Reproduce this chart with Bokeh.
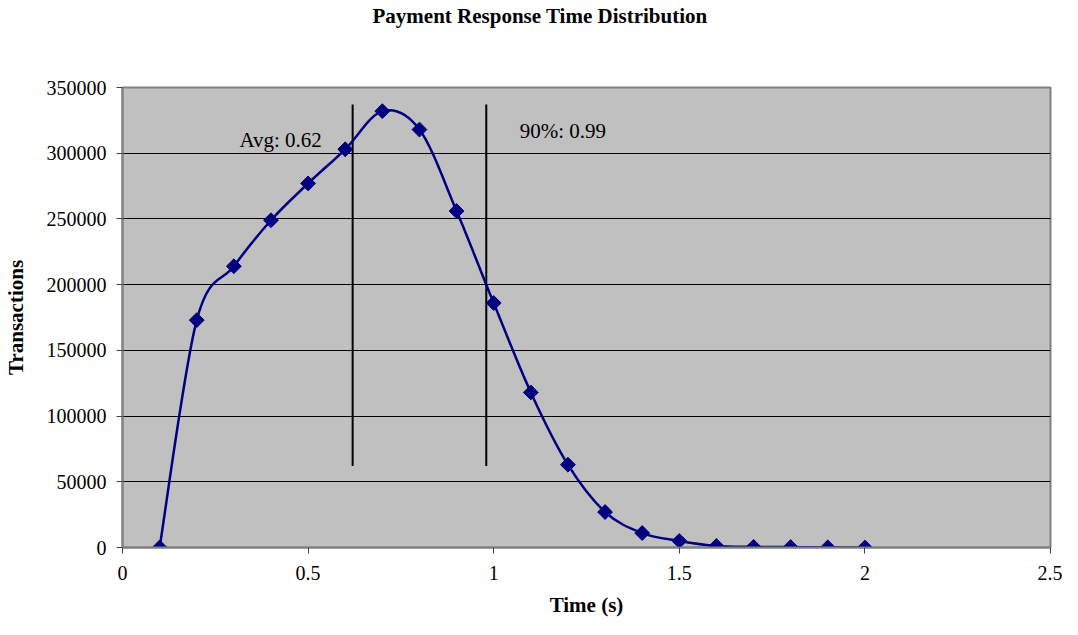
import numpy as np
from bokeh.plotting import figure
from bokeh.models import Range1d, FixedTicker, Label, Title, ColumnDataSource
from bokeh.embed import file_html
from bokeh.resources import INLINE

# ---- data ----
time_s = [0.1, 0.2, 0.3, 0.4, 0.5, 0.6, 0.7, 0.8, 0.9, 1.0,
          1.1, 1.2, 1.3, 1.4, 1.5, 1.6, 1.7, 1.8, 1.9, 2.0]
transactions = [0, 173000, 214000, 249000, 277000, 303000, 332000, 318000, 256000, 186000,
                118000, 63000, 27000, 11000, 5000, 1200, 500, 300, 100, 0]
x_ticks = [0, 0.5, 1, 1.5, 2, 2.5]
x_tick_labels = ["0", "0.5", "1", "1.5", "2", "2.5"]
y_ticks = [0, 50000, 100000, 150000, 200000, 250000, 300000, 350000]
y_tick_labels = ["0", "50000", "100000", "150000", "200000", "250000", "300000", "350000"]
marker_times = [0.62, 0.98]
marker_y0 = [62000, 62000]
marker_y1 = [337000, 337000]
annot_text = ["Avg: 0.62", "90%: 0.99"]
annot_x = [0.315, 1.07]
annot_y = [310000, 317000]
title_text = "Payment Response Time Distribution"

FONT = "Liberation Serif"
NAVY = "#000080"

p = figure(width=1062, height=619, output_backend="svg", toolbar_location=None,
           x_range=Range1d(0, 2.5), y_range=Range1d(0, 350000),
           min_border_left=122, min_border_right=12, min_border_top=87, min_border_bottom=70,
           x_axis_label="Time (s)", y_axis_label="Transactions")

p.title = Title(text=title_text, align="left", offset=250,
                text_font=FONT, text_font_size="21px", text_font_style="bold",
                text_color="black", vertical_align="top", standoff=2)

# blank spacer between the title and the plot area
p.add_layout(Title(text=" ", text_font=FONT, text_font_size="21px", standoff=31), "above")

p.background_fill_color = "#C0C0C0"
p.border_fill_color = "white"
p.outline_line_color = "#808080"
p.outline_line_width = 2

p.xgrid.visible = False
p.ygrid.grid_line_color = "black"
p.ygrid.grid_line_width = 1
p.ygrid.ticker = FixedTicker(ticks=y_ticks)

p.xaxis.ticker = FixedTicker(ticks=x_ticks)
p.yaxis.ticker = FixedTicker(ticks=y_ticks)
p.xaxis.major_label_overrides = {t: l for t, l in zip(x_ticks, x_tick_labels)}
p.yaxis.major_label_overrides = {t: l for t, l in zip(y_ticks, y_tick_labels)}

for ax in (p.xaxis, p.yaxis):
    ax.axis_line_color = "#808080"
    ax.axis_line_width = 2
    ax.major_tick_line_color = "#404040"
    ax.major_tick_in = 0
    ax.major_tick_out = 6
    ax.minor_tick_line_color = None
    ax.major_label_text_font = FONT
    ax.major_label_text_font_size = "20px"
    ax.major_label_text_color = "black"
    ax.axis_label_text_font = FONT
    ax.axis_label_text_font_size = "21px"
    ax.axis_label_text_font_style = "bold"
    ax.axis_label_text_color = "black"

p.xaxis.major_label_standoff = 12
p.xaxis.axis_label_standoff = 10
p.yaxis.major_label_standoff = 10
p.yaxis.axis_label_standoff = 16

# vertical marker lines
p.segment(x0=marker_times, y0=marker_y0, x1=marker_times, y1=marker_y1,
          line_color="black", line_width=2)

# smoothed curve (Catmull-Rom style Bezier through the data points)
X = np.array(time_s, dtype=float)
Y = np.array(transactions, dtype=float)
n = len(X)
x0, y0, x1, y1, cx0, cy0, cx1, cy1 = [], [], [], [], [], [], [], []
for i in range(n - 1):
    ip = i - 1 if i > 0 else i
    inn = i + 2 if i + 2 < n else i + 1
    x0.append(X[i]); y0.append(Y[i]); x1.append(X[i + 1]); y1.append(Y[i + 1])
    cx0.append(X[i] + (X[i + 1] - X[ip]) / 6); cy0.append(Y[i] + (Y[i + 1] - Y[ip]) / 6)
    cx1.append(X[i + 1] - (X[inn] - X[i]) / 6); cy1.append(Y[i + 1] - (Y[inn] - Y[i]) / 6)
bsrc = ColumnDataSource(dict(x0=x0, y0=y0, x1=x1, y1=y1, cx0=cx0, cy0=cy0, cx1=cx1, cy1=cy1))
p.bezier(x0="x0", y0="y0", x1="x1", y1="y1", cx0="cx0", cy0="cy0", cx1="cx1", cy1="cy1",
         source=bsrc, line_color=NAVY, line_width=2.5)

p.scatter(x=time_s, y=transactions, marker="square", angle=np.pi / 4, size=10.5,
          fill_color=NAVY, line_color=NAVY)

for t, ax_, ay_ in zip(annot_text, annot_x, annot_y):
    p.add_layout(Label(x=ax_, y=ay_, text=t, text_font=FONT, text_font_size="21px",
                       text_color="black", text_baseline="middle", text_align="left"))

open("out.html", "w").write(file_html(p, INLINE))
